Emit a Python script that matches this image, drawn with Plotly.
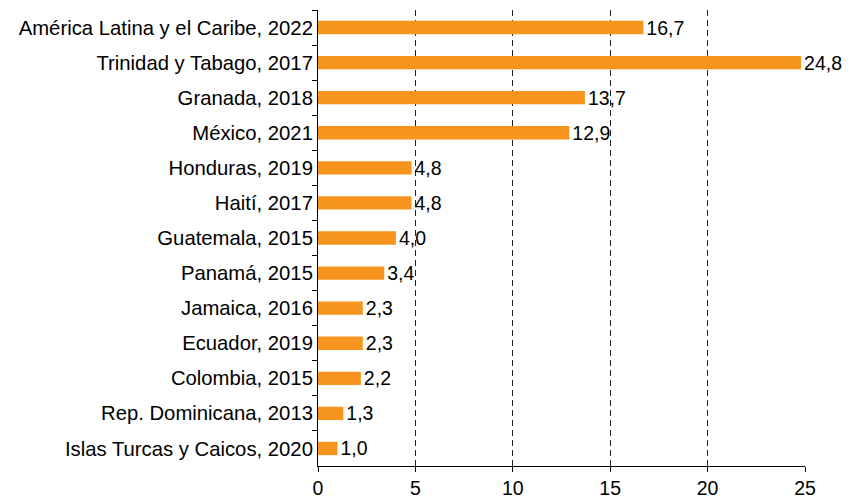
import plotly.graph_objects as go

categories = [
    "América Latina y el Caribe, 2022",
    "Trinidad y Tabago, 2017",
    "Granada, 2018",
    "México, 2021",
    "Honduras, 2019",
    "Haití, 2017",
    "Guatemala, 2015",
    "Panamá, 2015",
    "Jamaica, 2016",
    "Ecuador, 2019",
    "Colombia, 2015",
    "Rep. Dominicana, 2013",
    "Islas Turcas y Caicos, 2020",
]
values = [16.7, 24.8, 13.7, 12.9, 4.8, 4.8, 4.0, 3.4, 2.3, 2.3, 2.2, 1.3, 1.0]
x_ticks = [0, 5, 10, 15, 20, 25]

labels = [f"{v:.1f}".replace(".", ",") for v in values]

fig = go.Figure(
    go.Bar(
        x=values,
        y=categories,
        orientation="h",
        marker=dict(color="#F7941D", line=dict(width=0)),
        width=0.38,
        text=labels,
        textposition="outside",
        constraintext="none",
        textfont=dict(size=19.5, color="#000000"),
        cliponaxis=False,
    )
)

fig.update_layout(
    width=852,
    height=498,
    margin=dict(l=310, r=55, t=2, b=40, autoexpand=False),
    plot_bgcolor="white",
    paper_bgcolor="white",
    font=dict(family="Liberation Sans, Arial, sans-serif", size=20.3, color="#000000"),
    showlegend=False,
)

fig.update_xaxes(
    range=[0, 25],
    tickvals=x_ticks,
    ticktext=[str(t) for t in x_ticks],
    tickfont=dict(size=19.5),
    showgrid=True,
    gridcolor="#222222",
    griddash="6px,4px",
    gridwidth=1,
    showline=True,
    linecolor="#000000",
    linewidth=1,
    ticks="outside",
    ticklen=5,
    tickcolor="#000000",
    zeroline=False,
)

fig.update_yaxes(
    autorange="reversed",
    showline=True,
    linecolor="#000000",
    linewidth=1,
    ticks="outside",
    tickson="boundaries",
    ticklen=5,
    tickcolor="#000000",
    showgrid=False,
    zeroline=False,
)

fig.write_html("out.html")
